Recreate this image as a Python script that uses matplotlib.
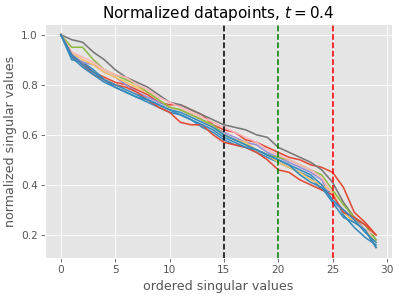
import numpy as np
import matplotlib
matplotlib.use('Agg')
import matplotlib.pyplot as plt

plt.style.use('ggplot')

# normalized singular values, one list per datapoint
red1 = [1.0, 0.91, 0.89, 0.85, 0.83, 0.81, 0.80, 0.78, 0.76, 0.73, 0.72, 0.72, 0.70, 0.68, 0.64,
        0.62, 0.61, 0.58, 0.57, 0.55, 0.53, 0.51, 0.50, 0.48, 0.47, 0.45, 0.39, 0.29, 0.25, 0.20]
blue1 = [1.0, 0.90, 0.89, 0.86, 0.82, 0.79, 0.77, 0.75, 0.73, 0.71, 0.69, 0.68, 0.66, 0.63, 0.61,
         0.58, 0.56, 0.55, 0.53, 0.51, 0.49, 0.47, 0.45, 0.43, 0.38, 0.37, 0.28, 0.23, 0.19, 0.16]
purple1 = [1.0, 0.92, 0.89, 0.88, 0.85, 0.83, 0.80, 0.77, 0.75, 0.73, 0.71, 0.70, 0.68, 0.66, 0.63,
           0.61, 0.59, 0.57, 0.56, 0.53, 0.51, 0.49, 0.47, 0.45, 0.42, 0.33, 0.30, 0.27, 0.24, 0.18]
gray = [1.0, 0.98, 0.97, 0.93, 0.90, 0.86, 0.83, 0.81, 0.79, 0.76, 0.73, 0.72, 0.70, 0.68, 0.66,
        0.64, 0.63, 0.62, 0.60, 0.59, 0.55, 0.53, 0.51, 0.49, 0.46, 0.41, 0.33, 0.27, 0.22, 0.15]
yellow = [1.0, 0.93, 0.90, 0.88, 0.85, 0.83, 0.81, 0.79, 0.77, 0.74, 0.71, 0.70, 0.68, 0.66, 0.63,
          0.60, 0.58, 0.57, 0.54, 0.52, 0.49, 0.47, 0.45, 0.42, 0.40, 0.37, 0.29, 0.25, 0.22, 0.17]
green = [1.0, 0.95, 0.95, 0.90, 0.86, 0.84, 0.82, 0.80, 0.77, 0.74, 0.71, 0.70, 0.68, 0.66, 0.64,
         0.60, 0.58, 0.56, 0.54, 0.52, 0.51, 0.50, 0.48, 0.46, 0.44, 0.38, 0.32, 0.27, 0.24, 0.18]
pink = [1.0, 0.93, 0.91, 0.89, 0.86, 0.84, 0.83, 0.80, 0.78, 0.75, 0.73, 0.71, 0.69, 0.67, 0.65,
        0.63, 0.61, 0.59, 0.57, 0.54, 0.52, 0.50, 0.48, 0.46, 0.43, 0.36, 0.30, 0.26, 0.22, 0.20]
red2 = [1.0, 0.92, 0.88, 0.84, 0.82, 0.80, 0.79, 0.77, 0.74, 0.71, 0.69, 0.65, 0.64, 0.64, 0.60,
        0.57, 0.56, 0.55, 0.53, 0.50, 0.46, 0.45, 0.42, 0.40, 0.38, 0.36, 0.29, 0.27, 0.24, 0.20]
blue2 = [1.0, 0.91, 0.87, 0.84, 0.81, 0.79, 0.77, 0.75, 0.74, 0.72, 0.70, 0.68, 0.66, 0.64, 0.62,
         0.59, 0.57, 0.55, 0.54, 0.52, 0.50, 0.48, 0.44, 0.41, 0.39, 0.33, 0.27, 0.25, 0.22, 0.15]
blue3 = [1.0, 0.92, 0.88, 0.85, 0.82, 0.80, 0.78, 0.76, 0.74, 0.72, 0.70, 0.69, 0.67, 0.65, 0.63,
         0.60, 0.58, 0.56, 0.54, 0.52, 0.50, 0.48, 0.46, 0.44, 0.40, 0.34, 0.30, 0.26, 0.21, 0.17]

datapoints = [red1, blue1, purple1, gray, yellow, green, pink, red2, blue2, blue3]
colors = ['#E24A33', '#348ABD', '#988ED5', '#777777', '#FBC15E', '#8EBA42', '#FFB5B8',
          '#E24A33', '#348ABD', '#348ABD']

cuts = [15, 20, 25]
cut_colors = ['k', 'g', 'r']

dpi = 76
fig = plt.figure(figsize=(399 / dpi, 297 / dpi), dpi=dpi)
ax = fig.add_subplot(111)
fig.subplots_adjust(left=0.113, right=0.982, bottom=0.131, top=0.919)

for sv, c in zip(datapoints, colors):
    ax.plot(np.arange(len(sv)), sv, color=c)

for xc, c in zip(cuts, cut_colors):
    ax.axvline(xc, color=c, linestyle='--')

ax.set_title(r'Normalized datapoints, $t=0.4$')
ax.set_xlabel('ordered singular values')
ax.set_ylabel('normalized singular values')

fig.savefig('out.png', dpi=dpi)
